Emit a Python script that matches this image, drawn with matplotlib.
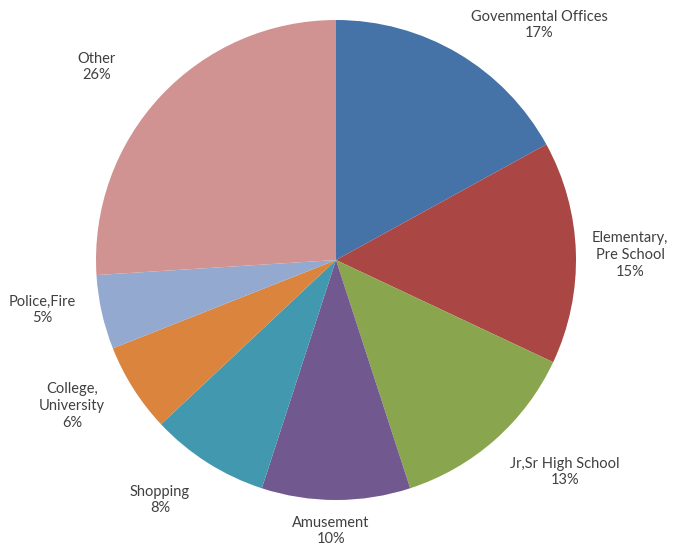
import matplotlib
matplotlib.use("Agg")
import matplotlib.pyplot as plt

categories = ["Govenmental Offices", "Elementary,\nPre School", "Jr,Sr High School",
              "Amusement", "Shopping", "College,\nUniversity", "Police,Fire", "Other"]
values = [17, 15, 13, 10, 8, 6, 5, 26]
colors = ["#4572A7", "#AA4643", "#89A54E", "#71588F", "#4198AF", "#DB843D", "#93A9CF", "#D19392"]

# label centres in image pixel coordinates (layout only)
label_pos = [(539, 25), (630, 255), (565, 472), (331, 531), (160, 500),
             (72, 406), (42, 310), (97, 67)]

W, H = 683, 552
fig = plt.figure(figsize=(W / 100, H / 100), dpi=100)
ax = fig.add_axes([0, 0, 1, 1])
ax.set_xlim(0, W)
ax.set_ylim(0, H)
ax.axis("off")

cx, cy, r = 336, H - 260, 240
ax.pie(values, colors=colors, startangle=90, counterclock=False,
       center=(cx, cy), radius=r, frame=True,
       wedgeprops=dict(linewidth=0))
ax.set_xlim(0, W)
ax.set_ylim(0, H)
ax.set_aspect("equal")
ax.axis("off")

for cat, val, (px, py) in zip(categories, values, label_pos):
    ax.text(px, H - py, f"{cat}\n{val}%", ha="center", va="center",
            fontsize=10.5, family="Lato", color="#404040", linespacing=1.25)

fig.savefig("out.png", dpi=100)
